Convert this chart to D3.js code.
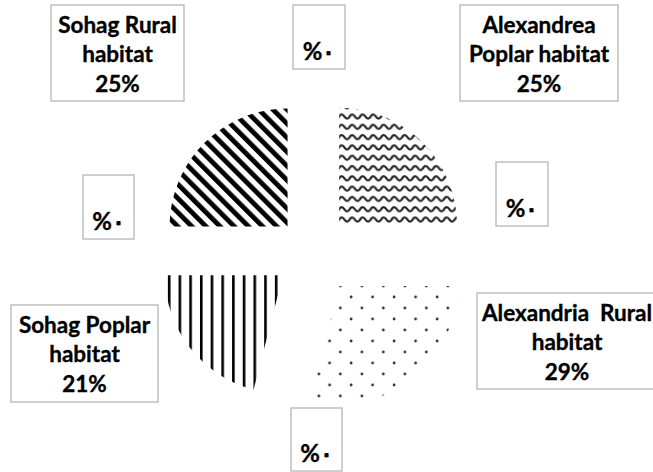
<!DOCTYPE html>
<html>
<head>
<meta charset="utf-8">
<script src="https://cdn.jsdelivr.net/npm/d3@7"></script>
<style>
  html, body { margin: 0; padding: 0; background: #fff; }
  svg { display: block; }
  text { font-family: "Lato", "Open Sans", sans-serif; font-weight: bold; fill: #000; stroke: #000; stroke-width: 0.35px; white-space: pre; }
</style>
</head>
<body>
<svg id="chart" width="653" height="472"></svg>
<script>
// ---- data ----
const categories = ["", "Alexandrea Poplar habitat", "", "Alexandria Rural habitat", "", "Sohag Poplar habitat", "", "Sohag Rural habitat"];
const values = [0, 25, 0, 29, 0, 21, 0, 25];
const labelLines = [
  ["%\u0660"],
  ["Alexandrea", "Poplar habitat", "25%"],
  ["%\u0660"],
  ["Alexandria  Rural", "habitat", "29%"],
  ["%\u0660"],
  ["Sohag Poplar", "habitat", "21%"],
  ["%\u0660"],
  ["Sohag Rural", "habitat", "25%"]
];

// ---- layout (positions / styles) ----
const W = 653, H = 472;
const cx = 313, cy = 252, R = 118;
const explode = [0, 37, 0, 43, 0, 38, 0, 36];
const fills = [null, "url(#wave)", null, "url(#dots)", null, "url(#vlines)", null, "url(#diag)"];
const boxes = [
  {x: 293, y: 5,   w: 52,  h: 64},
  {x: 460, y: 5,   w: 158, h: 96},
  {x: 496, y: 162, w: 52,  h: 64},
  {x: 477, y: 293, w: 180, h: 96},
  {x: 291, y: 408, w: 51,  h: 63},
  {x: 11,  y: 305, w: 147, h: 97},
  {x: 83,  y: 175, w: 51,  h: 64},
  {x: 51,  y: 5,   w: 133, h: 96}
];

const svg = d3.select("#chart");
const defs = svg.append("defs");

// diagonal stripes
const pd = defs.append("pattern").attr("id", "diag").attr("patternUnits", "userSpaceOnUse")
  .attr("width", 10).attr("height", 10).attr("patternTransform", "rotate(-45)");
pd.append("rect").attr("x", 0).attr("y", 0).attr("width", 4.8).attr("height", 10).attr("fill", "#000");

// vertical lines
const pv = defs.append("pattern").attr("id", "vlines").attr("patternUnits", "userSpaceOnUse")
  .attr("x", 173.8).attr("y", 0).attr("width", 10.7).attr("height", 10);
pv.append("rect").attr("x", 0).attr("y", 0).attr("width", 2.6).attr("height", 10).attr("fill", "#000");

// dots
const pdots = defs.append("pattern").attr("id", "dots").attr("patternUnits", "userSpaceOnUse")
  .attr("x", 340).attr("y", 281).attr("width", 21.5).attr("height", 22);
pdots.append("circle").attr("cx", 5).attr("cy", 5).attr("r", 1.4).attr("fill", "#333");
pdots.append("circle").attr("cx", 15.75).attr("cy", 16).attr("r", 1.4).attr("fill", "#333");

// waves
const pw = defs.append("pattern").attr("id", "wave").attr("patternUnits", "userSpaceOnUse")
  .attr("x", 0).attr("y", 102).attr("width", 10.5).attr("height", 10.3);
pw.append("path").attr("d", "M-5.25,5 Q-2.6,9 0,5 Q2.6,0.8 5.25,5 Q7.9,9.2 10.5,5 Q13.1,0.8 15.75,5").attr("fill", "none")
  .attr("stroke", "#262626").attr("stroke-width", 2.2);

// pie
const pie = d3.pie().sort(null).value(d => d);
const arcs = pie(values);
const arcGen = d3.arc().innerRadius(0).outerRadius(R);

const g = svg.append("g").attr("transform", `translate(${cx},${cy})`);
g.selectAll("path.slice")
  .data(arcs.filter(a => a.value > 0))
  .join("path")
  .attr("class", "slice")
  .attr("transform", d => {
    const mid = (d.startAngle + d.endAngle) / 2;
    const e = explode[d.index];
    return `translate(${Math.sin(mid) * e},${-Math.cos(mid) * e})`;
  })
  .attr("d", arcGen)
  .attr("fill", d => fills[d.index]);

// labels
const lg = svg.append("g");
arcs.forEach((a, i) => {
  const b = boxes[i];
  const lines = labelLines[i];
  const box = lg.append("g");
  box.append("rect").attr("x", b.x).attr("y", b.y).attr("width", b.w).attr("height", b.h)
    .attr("fill", "#fff").attr("stroke", "#bfbfbf").attr("stroke-width", 1.5);
  if (lines.length === 1) {
    box.append("text").attr("x", b.x + b.w / 2).attr("y", b.y + b.h - 9)
      .attr("text-anchor", "middle").attr("font-size", 24).attr("direction", "ltr")
      .text(lines[0]);
  } else {
    lines.forEach((ln, k) => {
      box.append("text").attr("x", b.x + b.w / 2).attr("y", b.y + 28 + k * 29.3)
        .attr("text-anchor", "middle").attr("font-size", 22.5).text(ln);
    });
  }
});
</script>
</body>
</html>
